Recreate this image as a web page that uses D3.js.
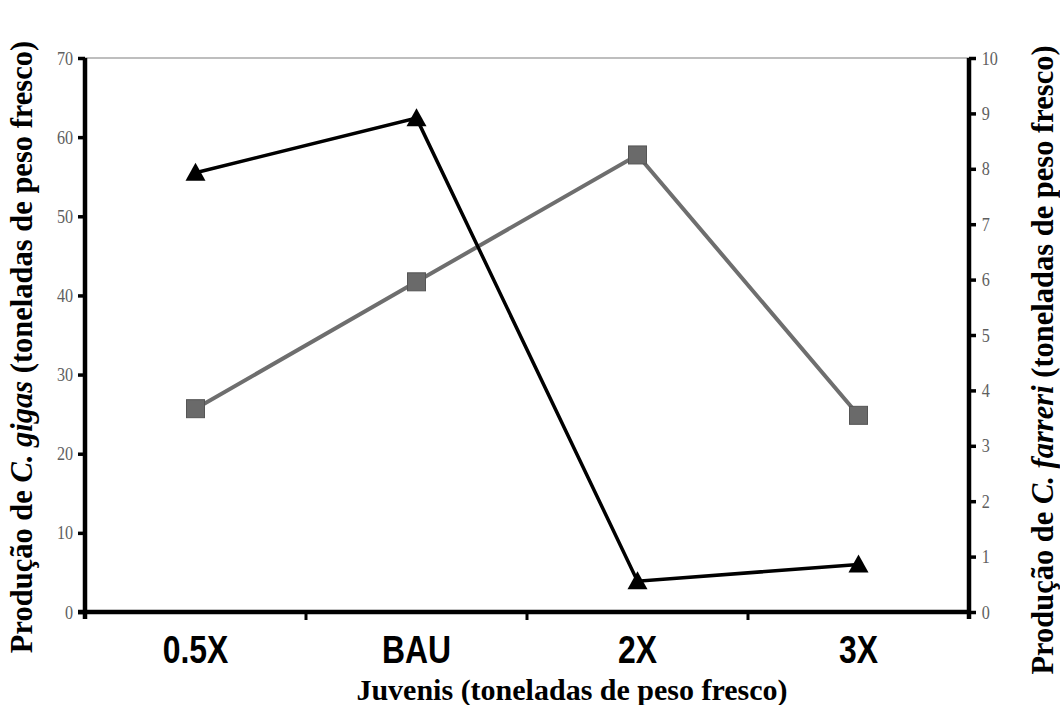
<!DOCTYPE html>
<html>
<head>
<meta charset="utf-8">
<script src="https://cdn.jsdelivr.net/npm/d3@7"></script>
<style>
  html, body { margin: 0; padding: 0; background: #fff; }
  svg { display: block; }
</style>
</head>
<body>
<svg id="chart" width="1060" height="705"></svg>
<script>
// Juvenile stocking scenarios
const categories = ["0.5X", "BAU", "2X", "3X"];
// C. gigas production (left axis, tonnes fresh weight)
const gigasValues = [55.5, 62.4, 3.9, 6.0];
// C. farreri production (right axis, tonnes fresh weight)
const farreriValues = [3.67, 5.96, 8.25, 3.55];
const leftTicks = [0, 10, 20, 30, 40, 50, 60, 70];
const rightTicks = [0, 1, 2, 3, 4, 5, 6, 7, 8, 9, 10];

const svg = d3.select("#chart");
const plot = { left: 85, right: 969, top: 58, bottom: 612 };

const x = d3.scaleBand().domain(categories).range([plot.left, plot.right]);
const yL = d3.scaleLinear().domain([0, 70]).range([plot.bottom, plot.top]);
const yR = d3.scaleLinear().domain([0, 10]).range([plot.bottom, plot.top]);
const cx = d => x(d) + x.bandwidth() / 2;

const serif = "'Liberation Serif', 'Times New Roman', serif";
const sans = "'Liberation Sans', Arial, sans-serif";

// top border of the plot area
svg.append("line")
  .attr("x1", plot.left).attr("x2", plot.right)
  .attr("y1", plot.top).attr("y2", plot.top)
  .attr("stroke", "#a8a8a8").attr("stroke-width", 1.5);

// left axis
const gL = svg.append("g").attr("transform", `translate(${plot.left},0)`)
  .call(d3.axisLeft(yL).tickValues(leftTicks).tickSize(7).tickPadding(7).tickFormat(d3.format("d")));
// right axis
const gR = svg.append("g").attr("transform", `translate(${plot.right},0)`)
  .call(d3.axisRight(yR).tickValues(rightTicks).tickSize(7).tickPadding(8).tickFormat(d3.format("d")));
// bottom axis, labels centred in each band
const gB = svg.append("g").attr("transform", `translate(0,${plot.bottom})`)
  .call(d3.axisBottom(x).tickSize(0).tickPadding(24));

[gL, gR].forEach(g => {
  g.select(".domain").attr("stroke", "#000").attr("stroke-width", 4.5)
    .attr("d", `M0,${plot.top}V${plot.bottom + 7}`);
  g.selectAll(".tick line").attr("stroke", "#000").attr("stroke-width", 3.5);
  g.selectAll(".tick text").attr("fill", "#5e5e5e")
    .style("font-family", serif).style("font-size", "19px")
    .attr("transform", "scale(0.85,1)");
});
gB.select(".domain").attr("stroke", "#000").attr("stroke-width", 4.5)
  .attr("d", `M${plot.left - 7},0H${plot.right}`);
gB.selectAll(".tick text").attr("fill", "#000")
  .style("font-family", sans).style("font-size", "38px").style("font-weight", "bold")
  .attr("transform", "scale(0.84,1)");
gB.selectAll(".tick line").remove();
// boundary ticks between categories
gB.selectAll(".sep").data(categories.slice(1)).join("line")
  .attr("class", "sep")
  .attr("x1", d => x(d)).attr("x2", d => x(d))
  .attr("y1", 0).attr("y2", 8)
  .attr("stroke", "#000").attr("stroke-width", 3);

// C. farreri series: grey line with squares
const farreri = categories.map((c, i) => ({ c, v: farreriValues[i] }));
svg.append("path").datum(farreri)
  .attr("fill", "none").attr("stroke", "#6e6e6e").attr("stroke-width", 4)
  .attr("d", d3.line().x(d => cx(d.c)).y(d => yR(d.v)));
svg.selectAll(".sq").data(farreri).join("rect")
  .attr("class", "sq")
  .attr("x", d => cx(d.c) - 9).attr("y", d => yR(d.v) - 9)
  .attr("width", 18).attr("height", 18)
  .attr("fill", "#6a6a6a").attr("stroke", "#555").attr("stroke-width", 1);

// C. gigas series: black line with triangles
const gigas = categories.map((c, i) => ({ c, v: gigasValues[i] }));
svg.append("path").datum(gigas)
  .attr("fill", "none").attr("stroke", "#000").attr("stroke-width", 3.5)
  .attr("d", d3.line().x(d => cx(d.c)).y(d => yL(d.v)));
svg.selectAll(".tri").data(gigas).join("path")
  .attr("class", "tri")
  .attr("transform", d => `translate(${cx(d.c)},${yL(d.v)})`)
  .attr("d", "M0,-10L10,8L-10,8Z")
  .attr("fill", "#000");

// axis titles
const leftTitle = svg.append("text")
  .attr("transform", "translate(32,347) rotate(-90)")
  .attr("text-anchor", "middle")
  .style("font-family", serif).style("font-size", "30.5px").style("font-weight", "bold");
leftTitle.append("tspan").text("Produção de ");
leftTitle.append("tspan").style("font-style", "italic").text("C. gigas");
leftTitle.append("tspan").text(" (toneladas de peso fresco)");

const rightTitle = svg.append("text")
  .attr("transform", "translate(1053,360) rotate(-90)")
  .attr("text-anchor", "middle")
  .style("font-family", serif).style("font-size", "30.5px").style("font-weight", "bold");
rightTitle.append("tspan").text("Produção de ");
rightTitle.append("tspan").style("font-style", "italic").text("C. farreri");
rightTitle.append("tspan").text(" (toneladas de peso fresco)");

svg.append("text")
  .attr("x", (plot.left + plot.right) / 2 + 45).attr("y", 700)
  .attr("text-anchor", "middle")
  .style("font-family", serif).style("font-size", "30px").style("font-weight", "bold")
  .text("Juvenis (toneladas de peso fresco)");
</script>
</body>
</html>
